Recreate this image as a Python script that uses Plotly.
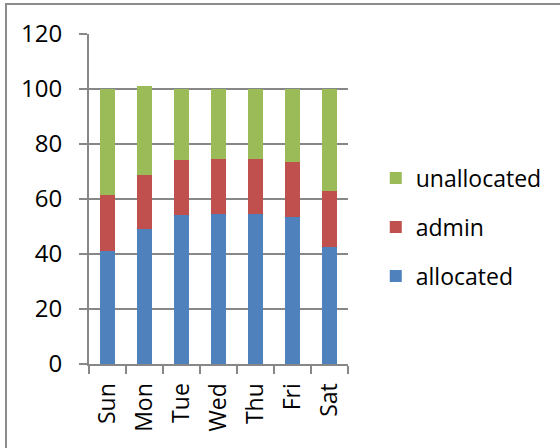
import plotly.graph_objects as go

days = ["Sun", "Mon", "Tue", "Wed", "Thu", "Fri", "Sat"]
allocated = [41.2, 49.1, 54.2, 54.4, 54.4, 53.5, 42.7]
admin = [20.1, 19.8, 20.1, 20.0, 20.0, 19.9, 20.1]
unallocated = [38.7, 32.1, 25.7, 25.6, 25.6, 26.6, 37.2]

# (name, values, colour, legend position from top)
series = [
    ("allocated", allocated, "#4F81BD", 3),
    ("admin", admin, "#C0504D", 2),
    ("unallocated", unallocated, "#9BBB59", 1),
]

FONT = "Open Sans"
GRID = "#878787"

fig = go.Figure()
for name, vals, color, rank in series:
    fig.add_trace(go.Bar(
        name=name, x=days, y=vals, legendgroup=name, legendrank=rank,
        marker=dict(color=color, line=dict(width=0)),
    ))

fig.update_layout(
    width=560, height=448,
    barmode="stack", bargap=0.61,
    plot_bgcolor="white", paper_bgcolor="white",
    margin=dict(l=89, r=212, t=34, b=84, autoexpand=False),
    font=dict(family=FONT, size=23, color="#000000"),
    legend=dict(
        traceorder="grouped", tracegroupgap=16,
        xref="container", yref="container",
        x=0.671, y=0.493, yanchor="middle", xanchor="left",
        font=dict(family=FONT, size=23),
        bgcolor="rgba(0,0,0,0)",
    ),
    xaxis=dict(
        showline=True, linecolor=GRID, linewidth=2,
        ticks="outside", ticklen=8, tickcolor=GRID, tickwidth=2,
        tickson="boundaries", tickangle=-90,
        ticklabelstandoff=8, tickfont=dict(size=23),
    ),
    yaxis=dict(
        range=[0, 120], dtick=20, tick0=0,
        showline=True, linecolor=GRID, linewidth=2,
        showgrid=True, gridcolor=GRID, gridwidth=2,
        ticks="outside", ticklen=8, tickcolor=GRID, tickwidth=2,
        zeroline=False, ticklabelstandoff=12, tickfont=dict(size=24),
    ),
    shapes=[dict(
        type="rect", xref="paper", yref="paper",
        x0=-0.3205, x1=2.0, y0=-0.5, y1=1.0909,
        line=dict(color="#8C8C8C", width=2), fillcolor="rgba(0,0,0,0)",
        layer="below",
    )],
)

fig.write_html("out.html")
